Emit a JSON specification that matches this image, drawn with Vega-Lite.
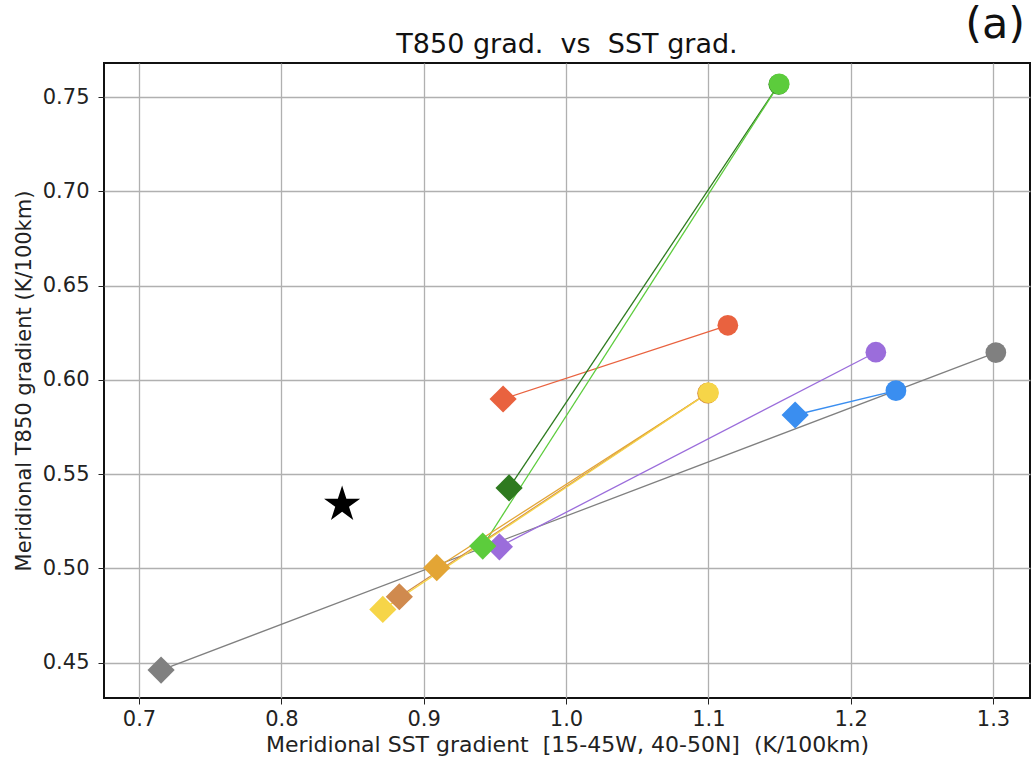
{
  "$schema": "https://vega.github.io/schema/vega-lite/v6.json",
  "autosize": "none",
  "width": 926,
  "height": 635,
  "padding": {"left": 104, "top": 63, "right": 5, "bottom": 63},
  "background": "white",
  "title": {
    "text": "T850 grad.\u00a0\u00a0vs\u00a0\u00a0SST grad.",
    "font": "DejaVu Sans",
    "fontSize": 27,
    "fontWeight": "normal",
    "color": "#111111",
    "anchor": "middle",
    "frame": "group",
    "offset": -55
  },
  "config": {
    "view": {"stroke": "#111111", "strokeWidth": 2},
    "axis": {
      "labelFont": "DejaVu Sans",
      "labelFontSize": 21,
      "labelColor": "#222222",
      "titleFont": "DejaVu Sans",
      "titleFontWeight": "normal",
      "titleColor": "#222222",
      "tickColor": "#222222",
      "tickSize": 6,
      "domain": false,
      "grid": true,
      "gridColor": "#b0b0b0",
      "gridWidth": 1.3
    }
  },
  "data": {
    "values": [
      {"model": "gray", "sst0": 0.7155, "t0": 0.4461, "sst1": 1.302, "t1": 0.6145},
      {"model": "red", "sst0": 0.9558, "t0": 0.5899, "sst1": 1.1137, "t1": 0.629},
      {"model": "blue", "sst0": 1.161, "t0": 0.5814, "sst1": 1.2318, "t1": 0.5943},
      {"model": "purple", "sst0": 0.9532, "t0": 0.5115, "sst1": 1.2177, "t1": 0.6147},
      {"model": "darkgreen", "sst0": 0.96, "t0": 0.5427, "sst1": 1.1495, "t1": 0.7568},
      {"model": "limegreen", "sst0": 0.9415, "t0": 0.5119, "sst1": 1.1498, "t1": 0.757},
      {"model": "brown", "sst0": 0.8829, "t0": 0.485, "sst1": 1.0995, "t1": 0.593},
      {"model": "orange", "sst0": 0.9092, "t0": 0.5004, "sst1": 1.0998, "t1": 0.5931},
      {"model": "yellow", "sst0": 0.8713, "t0": 0.4783, "sst1": 1.1001, "t1": 0.5932}
    ]
  },
  "layer": [
    {
      "mark": {"type": "rule", "strokeWidth": 1.3},
      "encoding": {
        "x": {
          "field": "sst0",
          "type": "quantitative",
          "scale": {"domain": [0.6754, 1.326], "nice": false, "zero": false},
          "axis": {
            "values": [0.7, 0.8, 0.9, 1.0, 1.1, 1.2, 1.3],
            "format": ".1f",
            "title": "Meridional SST gradient\u00a0\u00a0[15-45W, 40-50N]\u00a0\u00a0(K/100km)",
            "titleFontSize": 22,
            "labelPadding": 4,
            "titlePadding": 5
          }
        },
        "y": {
          "field": "t0",
          "type": "quantitative",
          "scale": {"domain": [0.4313, 0.7681], "nice": false, "zero": false},
          "axis": {
            "values": [0.45, 0.5, 0.55, 0.6, 0.65, 0.7, 0.75],
            "format": ".2f",
            "title": "Meridional T850 gradient (K/100km)",
            "titleFontSize": 21,
            "labelPadding": 9,
            "titlePadding": 8
          }
        },
        "x2": {"field": "sst1"},
        "y2": {"field": "t1"},
        "color": {
          "field": "model",
          "type": "nominal",
          "legend": null,
          "scale": {
            "domain": ["gray", "red", "blue", "purple", "darkgreen", "limegreen", "brown", "orange", "yellow"],
            "range": ["#808080", "#e9623f", "#3a8ef0", "#9b6ddb", "#2e7a1f", "#5ccc3c", "#d08a4e", "#e3a535", "#f6d548"]
          }
        }
      }
    },
    {
      "mark": {"type": "point", "shape": "diamond", "filled": true, "opacity": 1, "size": 740},
      "encoding": {
        "x": {"field": "sst0", "type": "quantitative"},
        "y": {"field": "t0", "type": "quantitative"},
        "color": {"field": "model", "type": "nominal", "legend": null}
      }
    },
    {
      "mark": {"type": "point", "shape": "circle", "filled": true, "opacity": 1, "size": 430},
      "encoding": {
        "x": {"field": "sst1", "type": "quantitative"},
        "y": {"field": "t1", "type": "quantitative"},
        "color": {"field": "model", "type": "nominal", "legend": null}
      }
    },
    {
      "data": {"values": [{"sst": 0.8427, "t": 0.5339}]},
      "mark": {
        "type": "point",
        "shape": "M0,-1L0.225,-0.309L0.951,-0.309L0.363,0.118L0.588,0.809L0,0.382L-0.588,0.809L-0.363,0.118L-0.951,-0.309L-0.225,-0.309Z",
        "filled": true,
        "opacity": 1,
        "size": 1444,
        "color": "#000000"
      },
      "encoding": {
        "x": {"field": "sst", "type": "quantitative"},
        "y": {"field": "t", "type": "quantitative"}
      }
    },
    {
      "data": {"values": [{"label": "(a)", "sst": 1.3015, "t": 0.7814}]},
      "mark": {"type": "text", "font": "DejaVu Sans", "fontSize": 43, "align": "center", "baseline": "alphabetic", "color": "#111111"},
      "encoding": {
        "x": {"field": "sst", "type": "quantitative"},
        "y": {"field": "t", "type": "quantitative"},
        "text": {"field": "label", "type": "nominal"}
      }
    }
  ]
}
